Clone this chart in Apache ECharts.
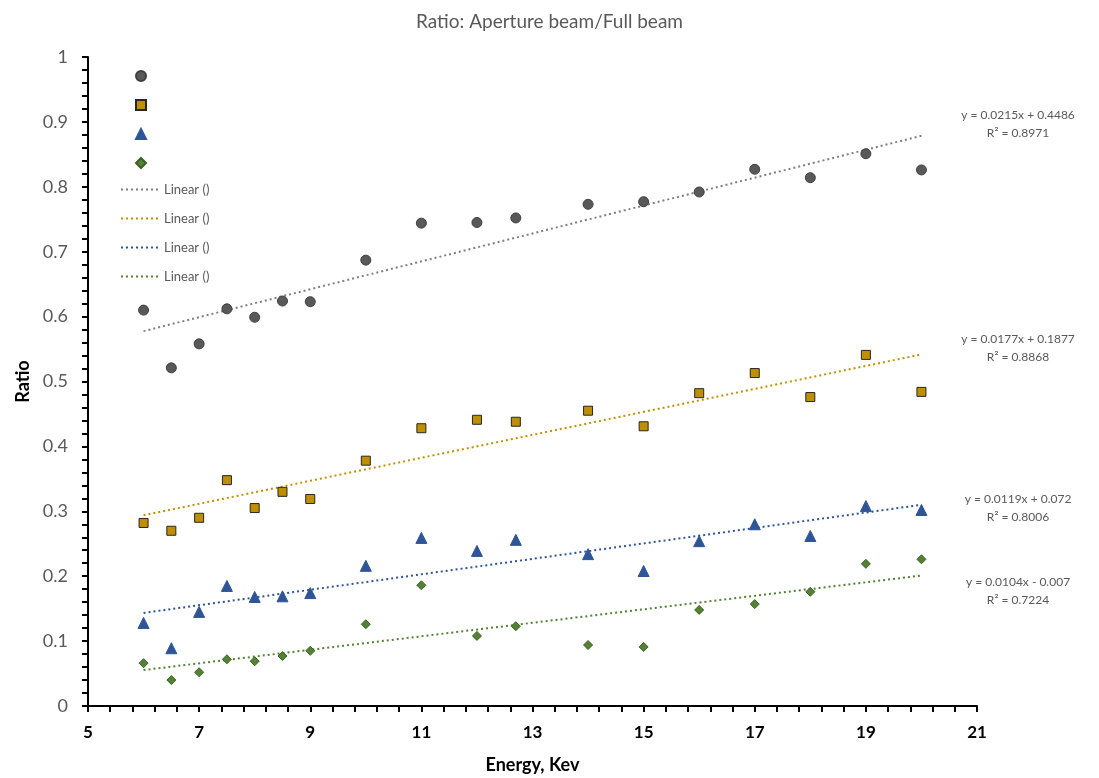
<!DOCTYPE html>
<html>
<head>
<meta charset="utf-8">
<script src="https://cdn.jsdelivr.net/npm/echarts@6/dist/echarts.min.js"></script>
<style>
  html, body { margin: 0; padding: 0; background: #fff; }
  #chart { width: 1099px; height: 778px; }
</style>
</head>
<body>
<div id="chart"></div>
<script>
// values
let energy = [6, 6.5, 7, 7.5, 8, 8.5, 9, 10, 11, 12, 12.7, 14, 15, 16, 17, 18, 19, 20]

let ratio_gray = [0.610, 0.521, 0.558, 0.612, 0.599, 0.624, 0.623, 0.687, 0.744, 0.745, 0.752, 0.773, 0.777, 0.792, 0.827, 0.814, 0.851, 0.826]
let ratio_gold = [0.282, 0.270, 0.290, 0.348, 0.305, 0.330, 0.319, 0.378, 0.428, 0.441, 0.438, 0.455, 0.431, 0.482, 0.513, 0.476, 0.541, 0.484]
let ratio_blue = [0.128, 0.089, 0.145, 0.185, 0.168, 0.169, 0.174, 0.216, 0.259, 0.239, 0.256, 0.234, 0.208, 0.254, 0.280, 0.262, 0.308, 0.302]
let ratio_green = [0.066, 0.040, 0.052, 0.072, 0.069, 0.077, 0.085, 0.126, 0.186, 0.108, 0.123, 0.094, 0.091, 0.148, 0.157, 0.176, 0.219, 0.226]

// trendline coefficients as printed on the chart
let slopes = [0.0215, 0.0177, 0.0119, 0.0104]
let intercepts = [0.4486, 0.1877, 0.072, -0.007]
let r2 = ['0.8971', '0.8868', '0.8006', '0.7224']
let eq_text = ['y = 0.0215x + 0.4486', 'y = 0.0177x + 0.1877', 'y = 0.0119x + 0.072', 'y = 0.0104x - 0.007']

let font = 'Lato, "Open Sans", sans-serif'
let fill_colors = ['#595959', '#BF8F00', '#2F5597', '#548235']
let border_colors = ['#404040', '#262626', '#2F5597', '#3B6124']
let line_colors = ['#7F7F7F', '#BF9000', '#2F5597', '#548235']
let symbols = ['circle', 'rect', 'triangle', 'diamond']
let sizes = [10, 9, 11, 9]
let all_ratio = [ratio_gray, ratio_gold, ratio_blue, ratio_green]

let series = []
let marker_legend = []
let line_legend = []

for (let i = 0; i < 4; i++) {
  let pts = []
  for (let j = 0; j < energy.length; j++) {
    pts.push([energy[j], all_ratio[i][j]])
  }
  series.push({
    name: 's' + i,
    type: 'scatter',
    symbol: symbols[i],
    symbolSize: sizes[i],
    itemStyle: { color: fill_colors[i], borderColor: border_colors[i], borderWidth: 1, opacity: 1 },
    z: 3,
    data: pts
  })
  marker_legend.push({ name: 's' + i, icon: symbols[i] })
}

let eq_labels = [[1018, 106], [1018, 330], [1018, 490], [1018, 573]]
let graphics = []

for (let i = 0; i < 4; i++) {
  let x0 = energy[0]
  let x1 = energy[energy.length - 1]
  series.push({
    name: 'Linear ' + i,
    type: 'line',
    symbol: 'none',
    silent: true,
    lineStyle: { color: line_colors[i], width: 2, type: [2, 3] },
    itemStyle: { color: line_colors[i] },
    z: 2,
    data: [[x0, slopes[i] * x0 + intercepts[i]], [x1, slopes[i] * x1 + intercepts[i]]]
  })
  line_legend.push('Linear ' + i)

  graphics.push({
    type: 'text',
    x: eq_labels[i][0],
    y: eq_labels[i][1],
    style: {
      text: eq_text[i] + '\nR² = ' + r2[i],
      align: 'center',
      verticalAlign: 'top',
      fill: '#595959',
      font: '12px ' + font,
      lineHeight: 18
    }
  })
}

let chart = echarts.init(document.getElementById('chart'))

option = {
  backgroundColor: '#fff',
  animation: false,
  title: {
    text: 'Ratio: Aperture beam/Full beam',
    left: 'center',
    top: 7,
    textStyle: { color: '#595959', fontSize: 19, fontWeight: 'normal', fontFamily: font }
  },
  legend: [
    {
      orient: 'vertical',
      left: 130,
      top: 65,
      itemWidth: 10,
      itemHeight: 10,
      itemGap: 17,
      data: marker_legend,
      formatter: function (name) { return '' },
      textStyle: { fontSize: 10, lineHeight: 10 }
    },
    {
      orient: 'vertical',
      left: 115,
      top: 178,
      itemWidth: 38,
      itemHeight: 10,
      itemGap: 16,
      data: line_legend,
      itemStyle: { opacity: 0 },
      lineStyle: { width: 2 },
      formatter: function (name) { return 'Linear ()' },
      textStyle: { color: '#595959', fontSize: 13, lineHeight: 10, fontFamily: font }
    }
  ],
  grid: {
    left: 88,
    right: 122,
    top: 57,
    bottom: 72,
    outerBoundsMode: 'none'
  },
  xAxis: {
    type: 'value',
    min: 5,
    max: 21,
    interval: 2,
    name: 'Energy, Kev',
    nameLocation: 'middle',
    nameGap: 50,
    nameTextStyle: { color: '#000', fontSize: 18, fontWeight: 'bold', fontFamily: font },
    axisLine: { lineStyle: { color: '#000', width: 2 } },
    axisTick: { show: true, length: 6, lineStyle: { color: '#000', width: 2 } },
    minorTick: { show: true, splitNumber: 5, length: 6, lineStyle: { color: '#000', width: 2 } },
    axisLabel: { color: '#000', fontSize: 17, fontWeight: 'bold', margin: 18, fontFamily: font },
    splitLine: { show: false }
  },
  yAxis: {
    type: 'value',
    min: 0,
    max: 1,
    interval: 0.1,
    name: 'Ratio',
    nameLocation: 'middle',
    nameRotate: 90,
    nameGap: 50,
    nameTextStyle: { color: '#000', fontSize: 18, fontWeight: 'bold', fontFamily: font },
    axisLine: { show: true, lineStyle: { color: '#000', width: 2 } },
    axisTick: { show: true, length: 6, lineStyle: { color: '#000', width: 2 } },
    minorTick: { show: true, splitNumber: 5, length: 6, lineStyle: { color: '#000', width: 2 } },
    axisLabel: { color: '#595959', fontSize: 18, margin: 20, fontFamily: font },
    splitLine: { show: false }
  },
  graphic: graphics,
  series: series
}

chart.setOption(option)
</script>
</body>
</html>
